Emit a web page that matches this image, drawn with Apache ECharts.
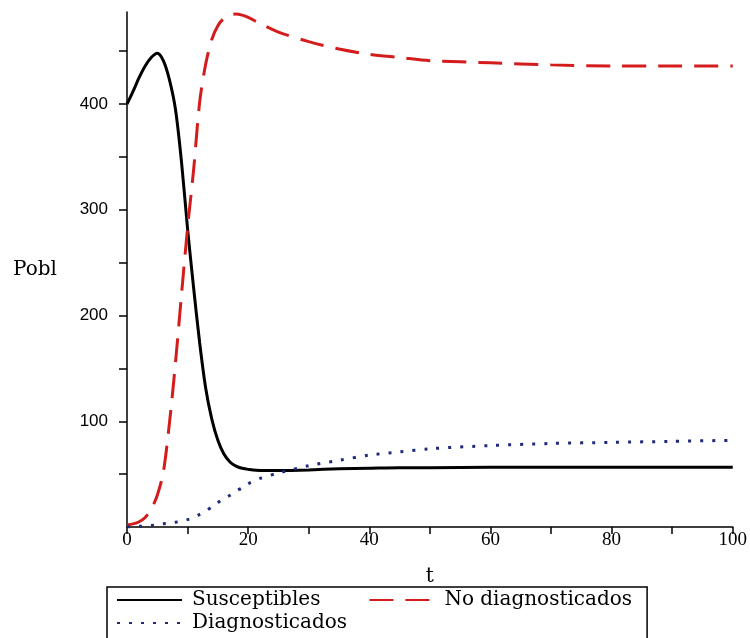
<!DOCTYPE html>
<html>
<head>
<meta charset="utf-8">
<script src="https://cdn.jsdelivr.net/npm/echarts@6/dist/echarts.min.js"></script>
<style>
  html, body { margin: 0; padding: 0; background: #fff; }
  #chart { width: 750px; height: 638px; }
</style>
</head>
<body>
<div id="chart"></div>
<script>
// time points (t) and the three populations
const tValues = [0, 1, 2, 3, 4, 5, 6, 7, 8, 9, 10, 11, 12, 13, 14, 15, 16, 17, 18, 19, 20,
  22, 25, 30, 35, 40, 45, 50, 60, 70, 80, 90, 100];
const susceptibles = [400, 412, 425, 436, 444, 448, 441, 423, 395, 345, 282, 226, 174, 131, 102, 82, 69, 61.5, 57.5, 55.5, 54.5,
  53.5, 53.5, 54, 55, 55.5, 56, 56, 56.5, 56.5, 56.5, 56.5, 56.5];
const noDiagnosticados = [2, 3, 5, 9, 17, 30, 52, 98, 155, 220, 283, 338, 402, 438, 461, 474, 481, 484, 485, 484, 482,
  476, 468, 459, 452, 447, 444, 441, 439, 437, 436, 436, 436];
const diagnosticados = [0, 0.3, 0.6, 1, 1.5, 2, 3, 3.5, 4.5, 5.5, 7, 9, 12, 15, 19, 23, 27, 30, 34, 37, 41,
  46, 51, 58, 63, 68, 71, 74, 77, 79, 80, 81, 82];
const xTickLabels = [0, 20, 40, 60, 80, 100];
const yTickLabels = [100, 200, 300, 400];

function pairs(values) {
  return tValues.map((t, i) => [t, values[i]]);
}

const chart = echarts.init(document.getElementById("chart"));

const serif = "DejaVu Serif";
const legendText = { fontFamily: serif, fontSize: 20, color: "#000", lineHeight: 20, padding: [0, 0, 0, 5] };
// hide the circle that line legends draw when symbol is none
const noSymbol = { color: "rgba(0,0,0,0)", borderWidth: 0, opacity: 0 };

chart.setOption({
  animation: false,
  backgroundColor: "#fff",
  grid: { left: 127, right: 15, top: 12, bottom: 111 },
  xAxis: {
    type: "value",
    min: 0,
    max: 100,
    interval: 10,
    name: "t",
    nameLocation: "middle",
    nameGap: 40,
    nameTextStyle: { fontFamily: serif, fontSize: 20, color: "#000" },
    axisLine: { lineStyle: { color: "#000", width: 1.5 } },
    axisTick: { length: 7, lineStyle: { color: "#000", width: 1.5 } },
    axisLabel: {
      margin: 4,
      fontFamily: "Liberation Serif",
      fontSize: 19,
      color: "#000",
      formatter: v => (xTickLabels.indexOf(v) >= 0 ? String(v) : "")
    },
    splitLine: { show: false }
  },
  yAxis: {
    type: "value",
    min: 0,
    max: 487,
    name: "Pobl",
    nameLocation: "middle",
    nameRotate: 0,
    nameGap: 70,
    nameTextStyle: { fontFamily: serif, fontSize: 20, color: "#000", padding: [4, 0, 0, 0] },
    axisLine: { show: true, lineStyle: { color: "#000", width: 1.5 } },
    axisTick: {
      length: 8,
      customValues: [50, 100, 150, 200, 250, 300, 350, 400, 450],
      lineStyle: { color: "#000", width: 1.5 }
    },
    axisLabel: {
      margin: 19,
      fontFamily: "Liberation Sans",
      fontSize: 17,
      color: "#000",
      customValues: yTickLabels
    },
    splitLine: { show: false }
  },
  legend: [
    {
      data: ["Susceptibles", "No diagnosticados"],
      left: 107,
      top: 587,
      orient: "horizontal",
      padding: [3, 15, 30, 9],
      borderColor: "#000",
      borderWidth: 1.5,
      itemWidth: 65,
      itemHeight: 14,
      itemGap: 48,
      itemStyle: noSymbol,
      textStyle: legendText
    },
    {
      data: ["Diagnosticados"],
      left: 116,
      top: 613,
      padding: 0,
      itemWidth: 65,
      itemHeight: 14,
      itemStyle: noSymbol,
      textStyle: legendText
    }
  ],
  series: [
    {
      name: "Susceptibles",
      type: "line",
      data: pairs(susceptibles),
      symbol: "none",
      smooth: 0.3,
      color: "#000",
      lineStyle: { color: "#000", width: 3 }
    },
    {
      name: "No diagnosticados",
      type: "line",
      data: pairs(noDiagnosticados),
      symbol: "none",
      smooth: 0.3,
      color: "#d41c1c",
      lineStyle: { color: "#d41c1c", width: 3, type: [24, 12] }
    },
    {
      name: "Diagnosticados",
      type: "line",
      data: pairs(diagnosticados),
      symbol: "none",
      smooth: 0.3,
      color: "#1f2a7a",
      lineStyle: { color: "#1f2a7a", width: 3, type: [3, 9] }
    }
  ]
});
</script>
</body>
</html>
